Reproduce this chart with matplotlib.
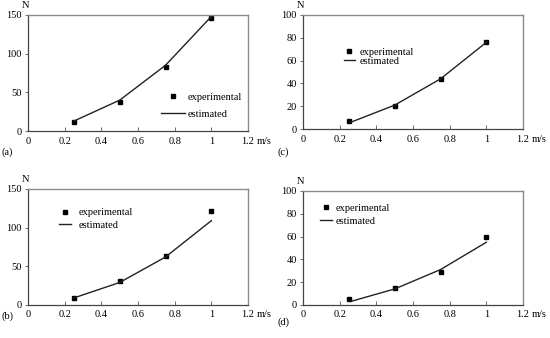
import numpy as np
import matplotlib
matplotlib.use("Agg")
import matplotlib.pyplot as plt

plt.rcParams['font.family'] = ['Liberation Serif', 'DejaVu Serif']
plt.rcParams['font.size'] = 7.5

# speeds (m/s)
speed = [0.25, 0.5, 0.75, 1.0]
speed_est = [0.25, 0.5, 0.75, 1.0]
speed_est_cd = [0.26, 0.5, 0.75, 1.0]

# panel (a)
exp_a = [12, 38, 83, 146]
est_a = [13, 40, 85, 148]
# panel (b)
exp_b = [9, 31, 63, 121]
est_b = [9, 29, 62, 109]
# panel (c)
exp_c = [7.5, 20, 44, 76]
est_c = [6, 21, 44, 76]
# panel (d)
exp_d = [5, 15, 29, 60]
est_d = [3, 14, 31, 55]

xticks = [0, 0.2, 0.4, 0.6, 0.8, 1.0, 1.2]
yticks_ab = [0, 50, 100, 150]
yticks_cd = [0, 20, 40, 60, 80, 100]

fig = plt.figure(figsize=(5.5, 3.38), dpi=100)

# name, rect, exp, est x, est, yticks, legend anchor, handlelength, labelspacing, textpad, label pos
panels = [
    ("(a)", [0.051, 0.612, 0.400, 0.344], exp_a, speed_est, est_a, yticks_ab,
     (0.605, 0.33), 2.3, 0.7, 0.2, (2 / 550, 1 - 152 / 338)),
    ("(c)", [0.551, 0.618, 0.400, 0.338], exp_c, speed_est_cd, est_c, yticks_cd,
     (0.184, 0.714), 1.1, 0.0, 0.4, (278 / 550, 1 - 152 / 338)),
    ("(b)", [0.051, 0.098, 0.400, 0.343], exp_b, speed_est, est_b, yticks_ab,
     (0.14, 0.835), 1.2, 0.3, 0.7, (2 / 550, 1 - 316 / 338)),
    ("(d)", [0.551, 0.098, 0.400, 0.337], exp_d, speed_est_cd, est_d, yticks_cd,
     (0.075, 0.89), 1.2, 0.35, 0.3, (278 / 550, 1 - 322 / 338)),
]

for name, rect, exp, ex, est, yt, anchor, hl, ls, tp, lab in panels:
    ax = fig.add_axes(rect)
    ax.plot(speed, exp, 's', color='black', markersize=2.8, linestyle='none',
            label='experimental')
    ax.plot(ex, est, '-', color='#222222', linewidth=1.0, label='estimated')
    ax.set_xlim(0, 1.2)
    ax.set_ylim(yt[0], yt[-1])
    ax.set_xticks(xticks)
    ax.set_xticklabels([f"{t:g}" for t in xticks])
    ax.set_yticks(yt)
    ax.tick_params(axis='x', direction='in', length=3, pad=4, width=0.6, color='#555555')
    ax.tick_params(axis='y', direction='out', length=2.5, pad=2, width=0.6, color='#555555')
    for s in ['top', 'right']:
        ax.spines[s].set_color('#8a8a8a')
        ax.spines[s].set_linewidth(1.0)
    for s in ['left', 'bottom']:
        ax.spines[s].set_color('#444444')
        ax.spines[s].set_linewidth(0.9)
    ax.legend(loc='upper left', bbox_to_anchor=anchor, frameon=False,
              borderpad=0, borderaxespad=0, handlelength=hl, handletextpad=tp,
              labelspacing=ls, markerscale=1.0, fontsize=7.5)
    ax.annotate("N", xy=(0, 1), xycoords='axes fraction', xytext=(-2, 6.5),
                textcoords='offset points', ha='center', va='center', fontsize=7.5)
    ax.annotate("m/s", xy=(1, 0), xycoords='axes fraction', xytext=(6, -4),
                textcoords='offset points', ha='left', va='top', fontsize=7.5)
    fig.text(lab[0], lab[1], name, ha='left', va='center', fontsize=7.5)

fig.savefig("out.png", dpi=100)
